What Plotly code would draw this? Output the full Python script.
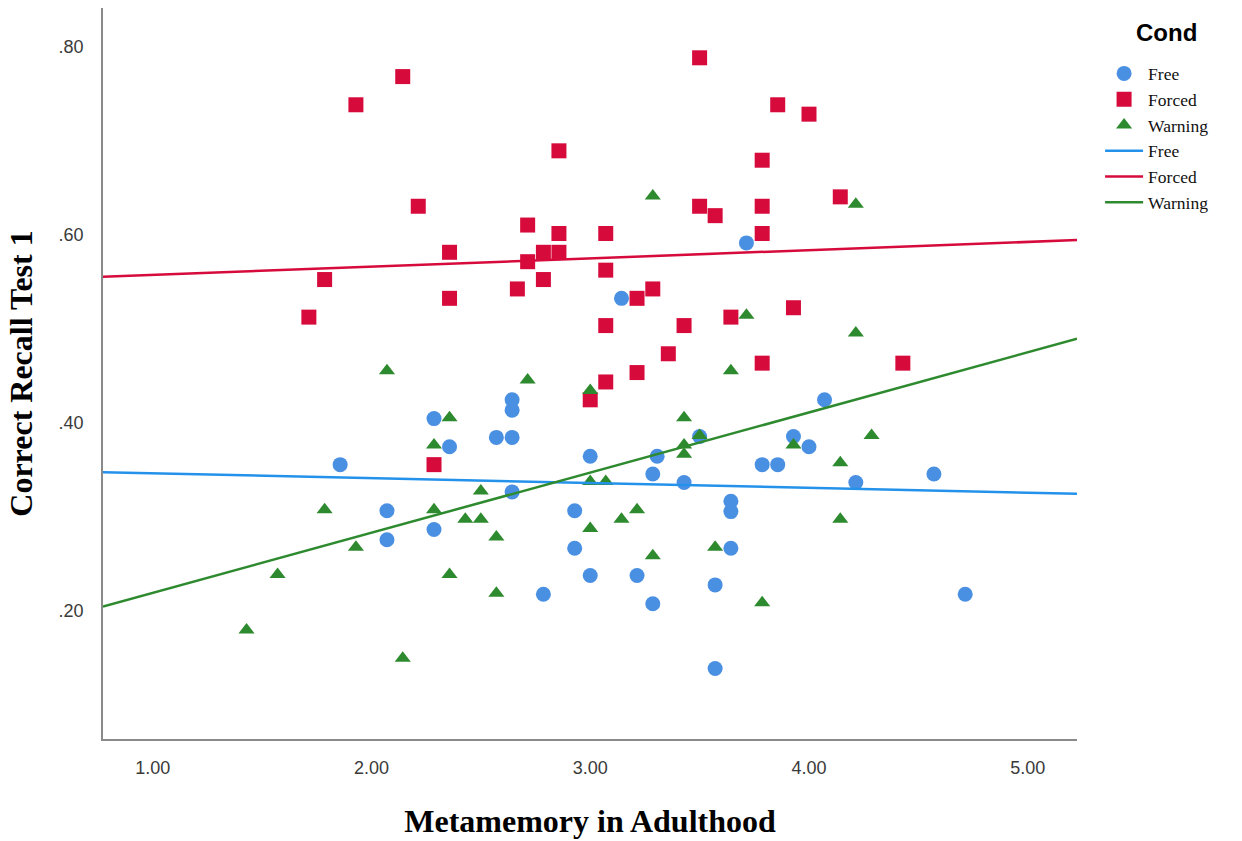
import plotly.graph_objects as go

# ---- data ----
free_x = [3.714, 3.143, 2.286, 1.857, 2.071, 2.071, 2.286, 2.643, 2.643, 2.571,
          2.643, 2.357, 3.000, 3.306, 3.500, 3.286, 3.429, 2.643, 2.929, 3.643,
          3.643, 3.786, 3.857, 4.071, 3.929, 4.000, 4.214, 4.571, 2.929, 3.000,
          3.214, 2.786, 3.286, 3.643, 3.571, 3.571, 4.714]
free_y = [0.591, 0.532, 0.404, 0.355, 0.306, 0.275, 0.286, 0.424, 0.413, 0.384,
          0.384, 0.374, 0.364, 0.364, 0.385, 0.345, 0.336, 0.326, 0.306, 0.316,
          0.305, 0.355, 0.355, 0.424, 0.385, 0.374, 0.336, 0.345, 0.266, 0.237,
          0.237, 0.217, 0.207, 0.266, 0.227, 0.138, 0.217]

forced_x = [2.143, 1.929, 2.857, 2.214, 2.714, 2.857, 2.357, 2.786, 2.857, 2.714,
            1.786, 2.786, 2.667, 2.357, 1.714, 3.500, 3.857, 4.000, 3.786, 3.500,
            3.571, 3.786, 4.143, 3.786, 3.071, 3.071, 3.286, 3.214, 3.071, 3.429,
            3.643, 3.929, 3.357, 3.214, 3.071, 3.000, 3.786, 4.429, 2.286]
forced_y = [0.768, 0.738, 0.689, 0.630, 0.610, 0.601, 0.581, 0.581, 0.581, 0.571,
            0.552, 0.552, 0.542, 0.532, 0.512, 0.788, 0.738, 0.728, 0.679, 0.630,
            0.620, 0.630, 0.640, 0.601, 0.601, 0.562, 0.542, 0.532, 0.503, 0.503,
            0.512, 0.522, 0.473, 0.453, 0.443, 0.424, 0.463, 0.463, 0.355]

warning_x = [3.286, 4.214, 4.214, 3.714, 2.071, 2.714, 3.000, 3.643, 2.357, 2.286,
             3.429, 3.429, 3.429, 3.500, 2.500, 3.000, 3.071, 2.286, 2.429, 2.500,
             2.571, 3.143, 3.214, 3.000, 4.286, 3.929, 4.143, 4.143, 1.929, 1.571,
             1.429, 2.143, 2.357, 2.571, 3.286, 3.571, 3.786, 1.786]
warning_y = [0.641, 0.632, 0.495, 0.514, 0.455, 0.445, 0.434, 0.455, 0.405, 0.376,
             0.405, 0.376, 0.366, 0.386, 0.327, 0.337, 0.337, 0.307, 0.297, 0.297,
             0.278, 0.297, 0.307, 0.287, 0.386, 0.376, 0.357, 0.297, 0.267, 0.238,
             0.179, 0.149, 0.238, 0.218, 0.258, 0.267, 0.208, 0.307]

# fit lines (end points)
fit_x = [0.773, 5.225]
free_fit = [0.347, 0.324]
forced_fit = [0.555, 0.594]
warning_fit = [0.204, 0.489]

x_ticks = [1, 2, 3, 4, 5]
x_tick_text = ["1.00", "2.00", "3.00", "4.00", "5.00"]
y_ticks = [0.2, 0.4, 0.6, 0.8]
y_tick_text = [".20", ".40", ".60", ".80"]

# ---- styles ----
C_FREE_M, C_FREE_L = "#4A90E2", "#2492EA"
C_FORCED = "#D60B3C"
C_WARN = "#2E8A2E"

fig = go.Figure()
fig.add_trace(go.Scatter(x=free_x, y=free_y, mode="markers", name="Free",
                         marker=dict(symbol="circle", size=15, color=C_FREE_M)))
fig.add_trace(go.Scatter(x=forced_x, y=forced_y, mode="markers", name="Forced",
                         marker=dict(symbol="square", size=15, color=C_FORCED)))
fig.add_trace(go.Scatter(x=warning_x, y=warning_y, mode="markers", name="Warning",
                         marker=dict(symbol="triangle-up", size=14, color=C_WARN)))
fig.add_trace(go.Scatter(x=fit_x, y=free_fit, mode="lines", name="Free",
                         line=dict(color=C_FREE_L, width=2.5)))
fig.add_trace(go.Scatter(x=fit_x, y=forced_fit, mode="lines", name="Forced",
                         line=dict(color=C_FORCED, width=2.5)))
fig.add_trace(go.Scatter(x=fit_x, y=warning_fit, mode="lines", name="Warning",
                         line=dict(color=C_WARN, width=2.5)))

tick_font = dict(family="Liberation Sans Narrow, Liberation Sans, Arial", size=18, color="#3a3a3a")
title_font = dict(family="Liberation Serif, Times New Roman, serif", size=32, color="#000000")

fig.update_layout(
    width=1242, height=841,
    margin=dict(l=103, r=165, t=8, b=99),
    paper_bgcolor="white", plot_bgcolor="white",
    showlegend=True,
    legend=dict(
        x=1.0237, y=0.935, xanchor="left", yanchor="top",
        font=dict(family="Liberation Serif, Times New Roman, serif", size=17.5, color="#111"),
        tracegroupgap=0, itemwidth=38, bgcolor="rgba(0,0,0,0)",
    ),
    annotations=[dict(
        text="<b>Cond</b>", xref="paper", yref="paper", x=1.0914, y=0.966,
        xanchor="center", yanchor="middle", showarrow=False,
        font=dict(family="Liberation Sans, Arial", size=24, color="#000"),
    )],
    xaxis=dict(
        range=[fit_x[0], fit_x[1]], tickvals=x_ticks, ticktext=x_tick_text,
        showgrid=False, zeroline=False, showline=True, linecolor="#8a8a8a", linewidth=1.5,
        ticks="", tickfont=tick_font, ticklabelstandoff=12,
        title=dict(text="<b>Metamemory in Adulthood</b>", font=title_font, standoff=32),
    ),
    yaxis=dict(
        range=[0.063, 0.841], tickvals=y_ticks, ticktext=y_tick_text,
        showgrid=False, zeroline=False, showline=True, linecolor="#8a8a8a", linewidth=1.5,
        ticks="", tickfont=tick_font, ticklabelstandoff=14,
        title=dict(text="<b>Correct Recall Test 1</b>", font=title_font, standoff=16),
    ),
)

fig.write_html("out.html")
